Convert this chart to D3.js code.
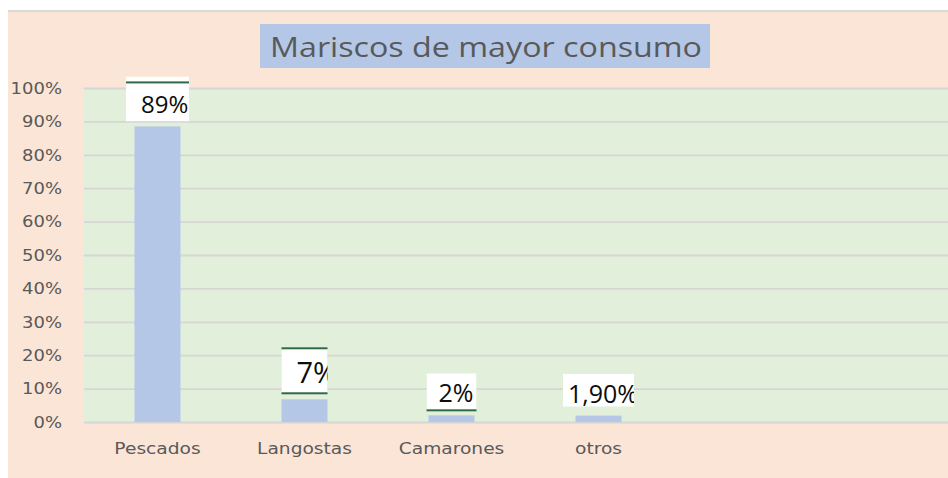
<!DOCTYPE html>
<html>
<head>
<meta charset="utf-8">
<script src="https://cdn.jsdelivr.net/npm/d3@7"></script>
<style>
  body { margin: 0; background: #fff; }
  svg { display: block; }
</style>
</head>
<body>
<svg id="chart" width="948" height="478"></svg>
<script>
const chart_title = "Mariscos de mayor consumo";
const categories = ["Pescados", "Langostas", "Camarones", "otros"];
const shares = [0.885, 0.068, 0.02, 0.019];
const share_labels = ["89%", "7%", "2%", "1,90%"];
const y_ticks = [0, 0.1, 0.2, 0.3, 0.4, 0.5, 0.6, 0.7, 0.8, 0.9, 1.0];

// look of the (hand-moved) data label boxes
const label_box_w = [63, 46, 50, 71];
const label_box_h = [45, 47, 38, 33];
const label_gap = [5, 5, 4, 9];
const label_font = [24, 29, 25, 25];
const label_inset = [15, 15, 12, 5];
const label_base = [8, 11, 9, 4];
const label_rules = [["top"], ["top", "bottom"], ["bottom"], []];

const svg = d3.select("#chart");
const plot = { left: 84, top: 88, right: 948, bottom: 422 };
const stretch = 1.2; // axis text is drawn a bit wide in the original

// Background
svg.append("rect").attr("x", 0).attr("y", 0).attr("width", 948).attr("height", 478).attr("fill", "#fff");
svg.append("rect").attr("x", 8).attr("y", 11).attr("width", 940).attr("height", 467).attr("fill", "#FBE5D6");
svg.append("rect").attr("x", 8).attr("y", 10).attr("width", 940).attr("height", 2).attr("fill", "#d9d9d9");

// Title
svg.append("rect").attr("x", 260).attr("y", 24).attr("width", 450).attr("height", 44).attr("fill", "#B4C7E7");
svg.append("text")
  .attr("x", 270).attr("y", 57)
  .attr("textLength", 432).attr("lengthAdjust", "spacingAndGlyphs")
  .style("font-family", "'Open Sans', sans-serif")
  .style("font-size", "27px")
  .style("fill", "#595959")
  .text(chart_title);

// Plot area
svg.append("rect")
  .attr("x", plot.left).attr("y", plot.top)
  .attr("width", plot.right - plot.left).attr("height", plot.bottom - plot.top)
  .attr("fill", "#E2EFDA");

let y = d3.scaleLinear().domain([0, 1]).range([plot.bottom, plot.top]);
let x = d3.scaleBand()
  .domain(categories)
  .range([plot.left, plot.left + 147 * categories.length])
  .paddingInner(0.687)
  .paddingOuter(0.3435);

// Gridlines + y labels
let y_axis = svg.append("g")
  .attr("transform", `translate(${plot.left},0)`)
  .call(d3.axisLeft(y).tickValues(y_ticks).tickFormat(d3.format(".0%")).tickSize(-(plot.right - plot.left)));
y_axis.select(".domain").remove();
y_axis.selectAll(".tick line").attr("stroke", "#d6d6d6").attr("stroke-width", 1.8);
y_axis.selectAll(".tick text")
  .attr("x", null).attr("dy", "0.35em")
  .attr("text-anchor", "end")
  .attr("transform", `translate(-22,0) scale(${stretch},1)`)
  .style("font-family", "'DejaVu Sans', sans-serif")
  .style("font-size", "15px")
  .style("fill", "#595959");

// Bars
svg.append("g").selectAll("rect")
  .data(categories)
  .join("rect")
  .attr("x", (d) => x(d))
  .attr("y", (d, i) => y(shares[i]))
  .attr("width", x.bandwidth())
  .attr("height", (d, i) => y(0) - y(shares[i]))
  .attr("fill", "#B4C7E7");

// X labels
let x_axis = svg.append("g")
  .attr("transform", `translate(0,${plot.bottom})`)
  .call(d3.axisBottom(x).tickSize(0));
x_axis.select(".domain").remove();
x_axis.selectAll(".tick text")
  .attr("y", null).attr("dy", null)
  .attr("transform", `translate(0,32) scale(${stretch * 0.97},1)`)
  .style("font-family", "'DejaVu Sans', sans-serif")
  .style("font-size", "16px")
  .style("fill", "#595959");

// Data labels
let defs = svg.append("defs");
categories.forEach((c, i) => {
  let w = label_box_w[i];
  let h = label_box_h[i];
  let cx = x(c) + x.bandwidth() / 2;
  let bx = cx - w / 2;
  let by = y(shares[i]) - label_gap[i] - h;

  defs.append("clipPath").attr("id", `label-clip-${i}`)
    .append("rect").attr("x", bx).attr("y", by).attr("width", w).attr("height", h);

  let g = svg.append("g").attr("clip-path", `url(#label-clip-${i})`);
  g.append("rect").attr("x", bx).attr("y", by).attr("width", w).attr("height", h).attr("fill", "#fff");
  g.append("text")
    .attr("x", bx + label_inset[i])
    .attr("y", by + h - label_base[i])
    .style("font-family", "'Open Sans', sans-serif")
    .style("font-size", `${label_font[i]}px`)
    .style("fill", "#0d0d0d")
    .text(share_labels[i]);

  label_rules[i].forEach((side) => {
    let ry = side == "top" ? (i == 0 ? by + 5 : by) : by + h - 2;
    svg.append("rect")
      .attr("x", bx).attr("y", ry)
      .attr("width", w).attr("height", 2)
      .attr("fill", "#2E6B45");
  });
});
</script>
</body>
</html>
